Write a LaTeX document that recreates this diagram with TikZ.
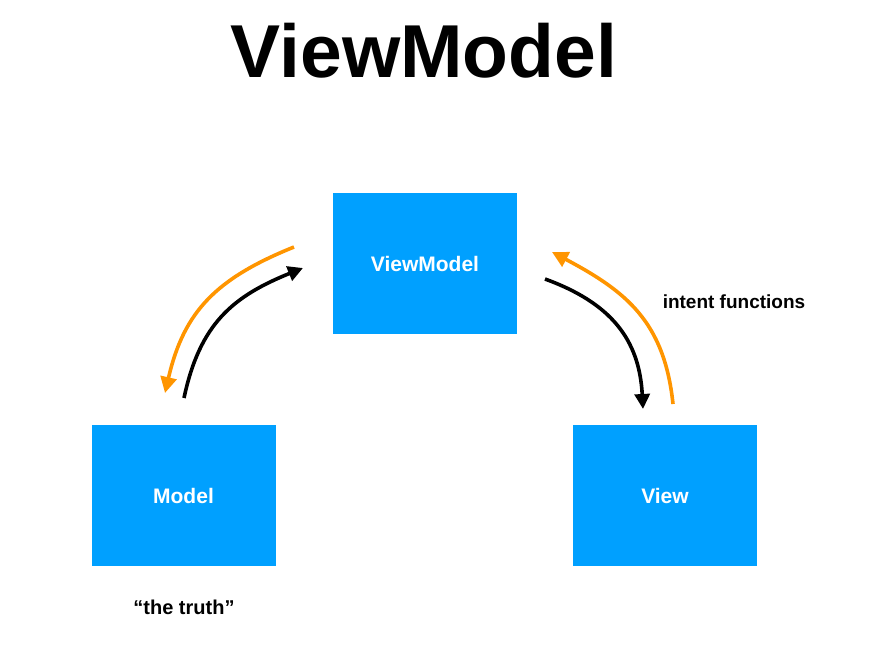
\documentclass[tikz,border=0pt]{standalone}
\usepackage{fontspec}
\setmainfont{Liberation Sans}
\usetikzlibrary{arrows.meta}
\definecolor{boxblue}{RGB}{0,160,255}
\definecolor{arrorange}{RGB}{255,149,0}
\tikzset{
  box/.style={fill=boxblue, draw=none, minimum width=184pt, minimum height=141pt, inner sep=0pt,
    text=white, font=\fontsize{21}{25}\selectfont\bfseries},
  label/.style={font=\fontsize{20}{24}\selectfont\bfseries, text=black, inner sep=0pt},
  blackarrow/.style={draw=black, line width=3.6pt, looseness=1.1, -{Triangle[length=15pt,width=15pt]}},
  orangearrow/.style={draw=arrorange, line width=3.6pt, looseness=1.1, -{Triangle[length=16pt,width=16pt]}},
}
\begin{document}
\begin{tikzpicture}[x=1pt,y=-1pt]
\useasboundingbox (0,0) rectangle (884,672);
\node[font=\fontsize{75}{80}\selectfont\bfseries, inner sep=0pt] (title) at (424,51) {ViewModel};
\node[box] (vm) at (425,263.5) {ViewModel};
\node[box] (model) at (183.5,495.5) {Model};
\node[box] (view) at (665,495.5) {View};
\node[label] (truth) at (184,607) {“the truth”};
\node[label, font=\fontsize{19}{23}\selectfont\bfseries] (intent) at (734,302) {intent functions};
\coordinate (lo1) at (294,247);
\coordinate (lo2) at (165,393);
\coordinate (lb1) at (184,398);
\coordinate (lb2) at (303,268);
\coordinate (rb1) at (545,279);
\coordinate (rb2) at (643,409);
\coordinate (ro1) at (673,404);
\coordinate (ro2) at (552,252);
\draw[orangearrow] (lo1) to[out=-158, in=77] (lo2);
\draw[blackarrow] (lb1) to[out=78, in=-158] (lb2);
\draw[blackarrow] (rb1) to[out=-20, in=93] (rb2);
\draw[orangearrow] (ro1) to[out=96, in=-28] (ro2);
\end{tikzpicture}
\end{document}
